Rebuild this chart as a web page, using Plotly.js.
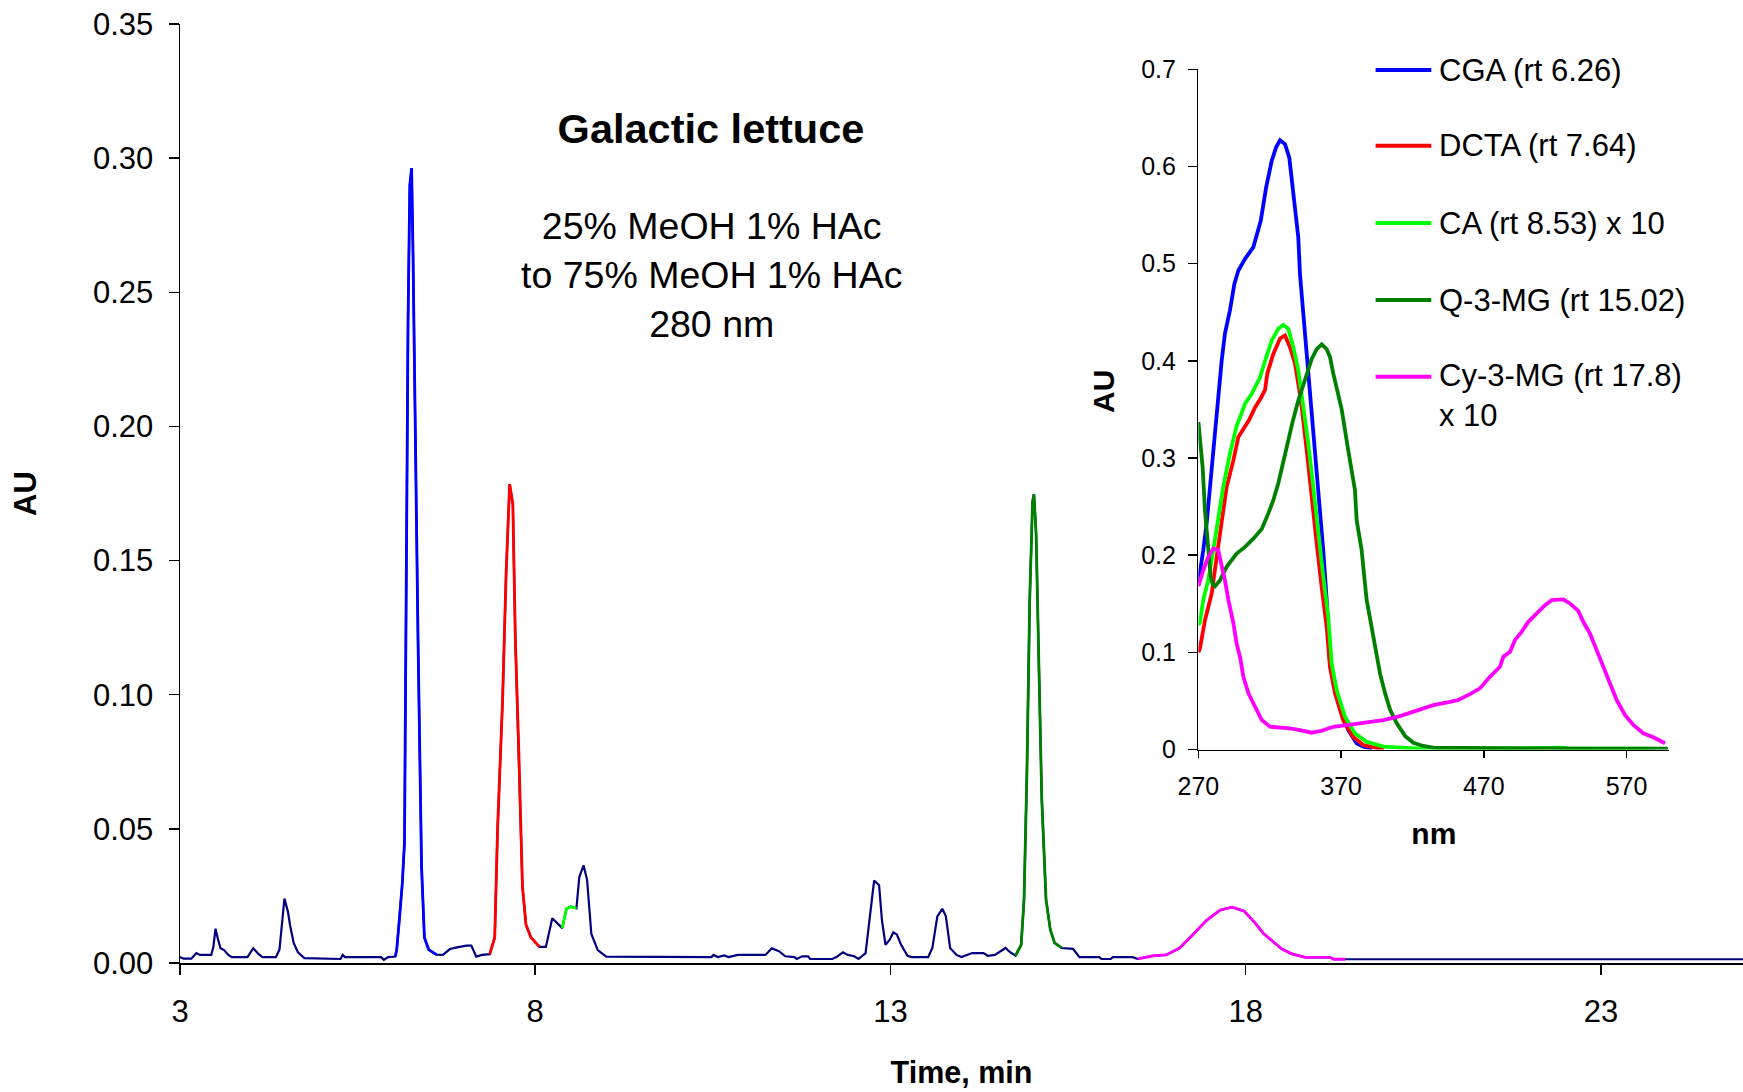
<!DOCTYPE html>
<html>
<head>
<meta charset="utf-8">
<script src="https://cdn.plot.ly/plotly-3.0.1.min.js"></script>
<style>html,body{margin:0;padding:0;background:#fff;}#chart{width:1743px;height:1092px;}</style>
</head>
<body>
<div id="chart"></div>
<script>
// ---------- Main chromatogram (280 nm) ----------
const timeMin = [3.00,3.05,3.16,3.23,3.28,3.44,3.47,3.50,3.53,3.57,3.62,3.68,3.73,3.95,4.03,4.10,4.16,4.35,4.40,4.44,4.47,4.52,4.55,4.60,4.66,4.75,5.26,5.29,5.32,5.83,5.87,5.93,6.03,6.05,6.09,6.13,6.16,6.187,6.21,6.235,6.26,6.28,6.30,6.35,6.40,6.44,6.50,6.61,6.70,6.80,6.90,7.03,7.10,7.17,7.25,7.36,7.43,7.47,7.54,7.59,7.64,7.685,7.72,7.77,7.82,7.87,7.94,8.06,8.15,8.24,8.30,8.38,8.44,8.50,8.58,8.62,8.68,8.73,8.79,8.88,9.00,10.48,10.51,10.57,10.66,10.72,10.85,11.24,11.33,11.43,11.52,11.65,11.68,11.76,11.84,11.87,12.18,12.24,12.33,12.40,12.49,12.55,12.65,12.71,12.77,12.84,12.88,12.93,12.99,13.04,13.09,13.15,13.24,13.30,13.53,13.59,13.66,13.73,13.78,13.84,13.93,14.00,14.15,14.31,14.37,14.47,14.56,14.62,14.68,14.76,14.84,14.88,14.92,14.96,15.00,15.02,15.05,15.09,15.13,15.19,15.25,15.31,15.41,15.57,15.66,15.94,15.97,16.10,16.13,16.41,16.48,16.70,16.88,17.07,17.26,17.45,17.64,17.81,17.98,18.14,18.25,18.37,18.51,18.65,18.84,19.19,19.24,19.40,25.00];
const au280 = [0.0022,0.0016,0.0016,0.0037,0.0030,0.0030,0.0060,0.0128,0.0093,0.0055,0.0048,0.0030,0.0022,0.0022,0.0055,0.0035,0.0022,0.0022,0.0050,0.0150,0.0240,0.0190,0.0140,0.0075,0.0040,0.0018,0.0015,0.0030,0.0022,0.0022,0.0012,0.0022,0.0024,0.0048,0.0168,0.0300,0.0450,0.1450,0.2400,0.2900,0.2963,0.2640,0.2160,0.1210,0.0360,0.0095,0.0050,0.0031,0.0030,0.0052,0.0058,0.0065,0.0065,0.0024,0.0030,0.0033,0.0095,0.0500,0.0976,0.1450,0.1785,0.1710,0.1210,0.0780,0.0285,0.0143,0.0095,0.0060,0.0060,0.0167,0.0150,0.0130,0.0202,0.0210,0.0204,0.0320,0.0364,0.0310,0.0108,0.0048,0.0024,0.0022,0.0030,0.0022,0.0028,0.0022,0.0030,0.0030,0.0055,0.0044,0.0025,0.0022,0.0015,0.0025,0.0025,0.0015,0.0015,0.0022,0.0040,0.0030,0.0025,0.0015,0.0037,0.0174,0.0307,0.0290,0.0160,0.0068,0.0087,0.0114,0.0106,0.0068,0.0027,0.0022,0.0022,0.0056,0.0174,0.0202,0.0174,0.0056,0.0030,0.0022,0.0037,0.0037,0.0027,0.0030,0.0047,0.0056,0.0041,0.0027,0.0068,0.0236,0.0700,0.1350,0.1720,0.1747,0.1600,0.1100,0.0610,0.0236,0.0124,0.0075,0.0056,0.0053,0.0022,0.0022,0.0015,0.0015,0.0022,0.0022,0.0015,0.0027,0.0030,0.0056,0.0106,0.0159,0.0197,0.0208,0.0193,0.0147,0.0110,0.0083,0.0052,0.0034,0.0021,0.0021,0.0014,0.0014,0.0014];
// retention windows of the highlighted peaks (min)
const peakStart = [6.03, 7.36, 8.38, 14.76, 16.48];
const peakEnd   = [6.61, 8.06, 8.58, 15.41, 19.40];

// ---------- Inset UV-Vis spectra ----------
const cgaNm = [270,271.1,273.4,275.8,278.6,281.6,282.8,286.3,288.6,292.1,295.2,298.0,302.7,308.5,313.7,317.4,321.4,324.5,327.2,330.7,333.7,337.0,340.0,341.2,344.7,348.2,350.5,354.0,357.5,359.9,361.0,362.2,365.7,370.4,375.0,380.9,385.6,392];
const cgaAU = [0.172,0.181,0.205,0.233,0.280,0.325,0.342,0.400,0.428,0.452,0.479,0.493,0.505,0.517,0.544,0.578,0.606,0.620,0.627,0.623,0.609,0.565,0.527,0.489,0.428,0.365,0.325,0.274,0.205,0.154,0.120,0.089,0.061,0.037,0.020,0.0064,0.003,0.001];
const dctaNm = [270,271.1,274.6,279.3,282.8,286.3,289.8,294.5,298.0,305.5,309.7,313.5,316.7,318.3,322.5,327.2,330.7,334.2,337.7,340.7,342.6,345.9,349.4,352.9,356.4,359.9,362.2,365.7,371.5,378.5,385.6,395,400];
const dctaAU = [0.100,0.104,0.133,0.1605,0.198,0.2325,0.270,0.2975,0.3215,0.339,0.352,0.361,0.370,0.387,0.407,0.423,0.426,0.414,0.397,0.370,0.350,0.308,0.2565,0.212,0.167,0.126,0.085,0.058,0.030,0.013,0.0046,0.001,0.0];
const caNm = [270,271.1,273.4,276.9,280.4,283.9,287.4,292.1,296.8,299.5,302.7,307.4,313.2,316.7,321.4,326.0,329.5,333.0,336.5,340.0,342.4,344.7,347.0,350.5,354.0,357.5,361.0,363.4,366.9,372.7,379.7,387.9,399.6,425,450,480,500,525,530,560,590];
const caAU = [0.128,0.131,0.154,0.174,0.205,0.236,0.270,0.3045,0.333,0.343,0.356,0.366,0.383,0.400,0.421,0.433,0.437,0.433,0.414,0.390,0.366,0.339,0.315,0.270,0.222,0.178,0.1365,0.0886,0.061,0.0337,0.0166,0.008,0.003,0.001,0.001,0.001,0.0015,0.002,0.001,0.001,0.001];
const q3mgNm = [270,271.4,273.0,274.6,276.9,278.6,280.0,281.6,285.1,289.8,296.8,302.7,308.5,314.4,319.0,322.5,326.0,329.5,333.0,336.0,340.0,344.7,349.4,352.9,356.4,359.9,362.2,364.5,366.9,370.4,375.0,379.7,380.9,384.4,386.7,387.9,391.4,394.9,397.3,400.8,404.3,409.0,414.8,420.6,427.6,434.6,460,500,550,599];
const q3mgAU = [0.337,0.310,0.290,0.246,0.212,0.178,0.170,0.168,0.174,0.188,0.2017,0.2085,0.217,0.227,0.243,0.2565,0.274,0.2975,0.318,0.337,0.359,0.380,0.402,0.412,0.417,0.412,0.404,0.387,0.373,0.350,0.308,0.267,0.236,0.205,0.171,0.154,0.126,0.099,0.078,0.058,0.041,0.027,0.014,0.007,0.0036,0.002,0.0015,0.0012,0.001,0.001];
const cy3mgNm = [270,273.4,276.9,280.4,283.9,286.3,288.6,291.0,294.5,296.8,299.2,301.5,305.0,309.7,314.4,320.2,334.2,341.2,349.4,356.4,364.5,373.9,385.6,399.6,411.3,420.6,427.6,434.6,446.3,452.1,460.3,467.3,474.3,481.3,483.7,488.4,491.8,496.5,501.2,507.0,512.9,517.6,525.7,530.4,536.2,539.7,544.4,549.1,553.7,558.4,563.1,568.9,574.8,581.8,588.8,597.0];
const cy3mgAU = [0.168,0.1845,0.198,0.2068,0.205,0.191,0.174,0.154,0.130,0.109,0.095,0.075,0.058,0.044,0.0303,0.0234,0.0218,0.020,0.0173,0.0193,0.0234,0.0252,0.0276,0.0303,0.0344,0.0389,0.0413,0.0457,0.0491,0.0509,0.057,0.0629,0.0748,0.0851,0.0954,0.1005,0.1125,0.1211,0.1314,0.140,0.1485,0.1537,0.1544,0.1503,0.1427,0.1314,0.1194,0.1023,0.0851,0.0663,0.0509,0.0355,0.0252,0.0167,0.0125,0.0064];

const legendLabels = ['CGA (rt 6.26)', 'DCTA (rt 7.64)', 'CA (rt 8.53) x 10', 'Q-3-MG (rt 15.02)', 'Cy-3-MG (rt 17.8)<br>x 10'];
const mainTitle = 'Galactic lettuce';
const conditionLines = ['25% MeOH 1% HAc', 'to 75% MeOH 1% HAc', '280 nm'];
const insetYTitle = 'AU';

// ---------- styles ----------
const baseColor = '#000080';
const seriesColors = ['#0000FF', '#FF0000', '#00FF00', '#008000', '#FF00FF'];
const FONT = 'Liberation Sans, Arial, Helvetica, sans-serif';

const traces = [];
traces.push({x: timeMin, y: au280, type: 'scatter', mode: 'lines',
  line: {color: baseColor, width: 2.2}, xaxis: 'x', yaxis: 'y', hoverinfo: 'skip'});
for (let k = 0; k < peakStart.length; k++) {
  const xs = [], ys = [];
  for (let i = 0; i < timeMin.length; i++) {
    if (timeMin[i] >= peakStart[k] - 1e-9 && timeMin[i] <= peakEnd[k] + 1e-9) { xs.push(timeMin[i]); ys.push(au280[i]); }
  }
  traces.push({x: xs, y: ys, type: 'scatter', mode: 'lines',
    line: {color: seriesColors[k], width: 2.8}, xaxis: 'x', yaxis: 'y', hoverinfo: 'skip'});
}
const spectra = [[cgaNm, cgaAU], [dctaNm, dctaAU], [caNm, caAU], [q3mgNm, q3mgAU], [cy3mgNm, cy3mgAU]];
spectra.forEach((s, k) => {
  traces.push({x: s[0], y: s[1], type: 'scatter', mode: 'lines', name: legendLabels[k],
    line: {color: seriesColors[k], width: 3.8}, xaxis: 'x2', yaxis: 'y2', hoverinfo: 'skip'});
});

// legend (Excel style, long line samples)
const W = 1743, H = 1092, ML = 180, MR = 0, MT = 24, MB = 129;
const PW = W - ML - MR, PH = H - MT - MB;
const px = v => (v - ML) / PW;
const py = v => (H - MB - v) / PH;
const legendRowsY = [70, 145.7, 223, 300, 376.7];
const shapes = [], annotations = [];
legendLabels.forEach((lab, k) => {
  shapes.push({type: 'line', xref: 'paper', yref: 'paper', x0: px(1375.6), x1: px(1431.3),
    y0: py(legendRowsY[k]), y1: py(legendRowsY[k]), line: {color: seriesColors[k], width: 4}});
  const multi = lab.indexOf('<br>') >= 0;
  annotations.push({xref: 'paper', yref: 'paper', x: px(1437), y: multi ? py(legendRowsY[k] - 21) : py(legendRowsY[k]),
    xanchor: 'left', yanchor: multi ? 'top' : 'middle', align: 'left', showarrow: false, text: lab,
    font: {family: FONT, size: 31, color: 'black'}});
});
annotations.push({xref: 'paper', yref: 'paper', x: px(711), y: py(275), xanchor: 'center', yanchor: 'middle',
  showarrow: false, text: conditionLines.join('<br>'), font: {family: FONT, size: 37.5, color: 'black'}});
// inset y-axis title (placed above the axis centre, as in the original)
annotations.push({xref: 'paper', yref: 'paper', x: px(1104), y: py(392), xanchor: 'center', yanchor: 'middle',
  textangle: -90, showarrow: false, text: '<b>' + insetYTitle + '</b>', font: {family: FONT, size: 30, color: 'black'}});

const axisCommon = {showgrid: false, zeroline: false, showline: true, linecolor: 'black', linewidth: 1.5,
  ticks: 'outside', tickcolor: 'black', tickwidth: 1.5, tickmode: 'linear'};

const layout = {
  width: W, height: H,
  margin: {l: ML, r: MR, t: MT, b: MB, pad: 0},
  paper_bgcolor: 'white', plot_bgcolor: 'rgba(0,0,0,0)',
  font: {family: FONT, color: 'black'},
  showlegend: false,
  title: {text: '<b>' + mainTitle + '</b>', font: {family: FONT, size: 41.5, color: 'black'},
    x: 711 / W, xanchor: 'center', y: 1 - 128 / H, yanchor: 'middle'},
  xaxis: Object.assign({}, axisCommon, {domain: [0, 1], range: [3, 25], tick0: 3, dtick: 5, ticklen: 10,
    tickfont: {family: FONT, size: 31}, ticklabelstandoff: 10,
    title: {text: '<b>Time, min</b>', font: {family: FONT, size: 30.5}, standoff: 34}}),
  yaxis: Object.assign({}, axisCommon, {domain: [0, 1], range: [0, 0.35], tick0: 0, dtick: 0.05, ticklen: 10,
    tickformat: '.2f', tickfont: {family: FONT, size: 31}, ticklabelstandoff: 9,
    title: {text: '<b>AU</b>', font: {family: FONT, size: 31}, standoff: 47}}),
  xaxis2: Object.assign({}, axisCommon, {domain: [px(1198.4), px(1669.3)], anchor: 'y2', range: [270, 600],
    tick0: 270, dtick: 100, ticklen: 7, tickfont: {family: FONT, size: 25}, ticklabelstandoff: 7,
    title: {text: '<b>nm</b>', font: {family: FONT, size: 30}, standoff: 24}}),
  yaxis2: Object.assign({}, axisCommon, {domain: [py(749.5), py(69.3)], anchor: 'x2', range: [0, 0.7],
    tick0: 0, dtick: 0.1, ticklen: 9, tickfont: {family: FONT, size: 25}, ticklabelstandoff: 7}),
  shapes: shapes,
  annotations: annotations
};

Plotly.newPlot('chart', traces, layout, {staticPlot: true, displayModeBar: false});
</script>
</body>
</html>
